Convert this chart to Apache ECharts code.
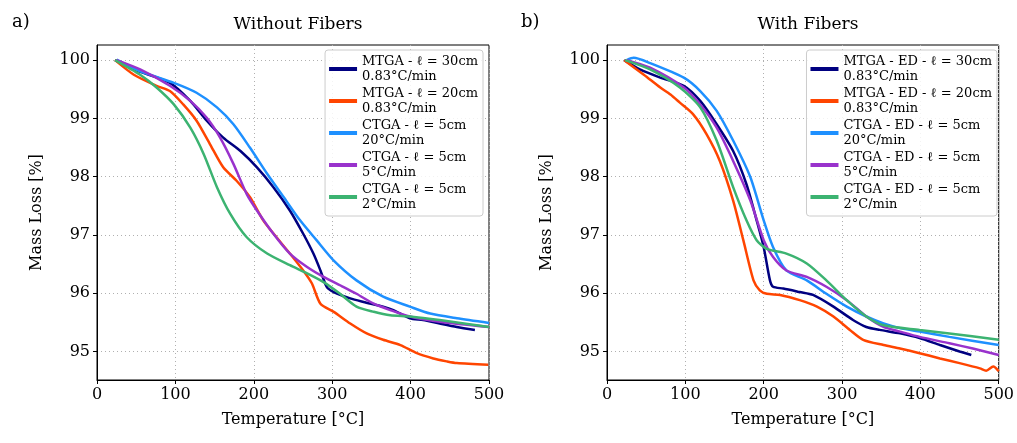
<!DOCTYPE html>
<html>
<head>
<meta charset="utf-8">
<script src="https://cdn.jsdelivr.net/npm/echarts@6/dist/echarts.min.js"></script>
<style>
  html, body { margin: 0; padding: 0; background: #fff; }
  #main { width: 1017px; height: 443px; }
</style>
</head>
<body>
<div id="main"></div>
<script>
// temperature [°C] / mass [%] pairs
// a) Without Fibers
var mtga30A = [[23,100],[47,99.84],[93,99.61],[119,99.30],[140,98.96],[161,98.67],[183,98.44],[204,98.16],[225,97.82],[246,97.42],[263,97.02],[276,96.68],[285,96.39],[293,96.11],[302,96.02],[323,95.91],[340,95.85],[365,95.77],[378,95.71],[399,95.57],[416,95.54],[437,95.48],[459,95.42],[482,95.37]];
var mtga20A = [[23,100],[47,99.75],[76,99.56],[93,99.47],[110,99.24],[127,98.96],[144,98.56],[161,98.16],[178,97.93],[195,97.65],[212,97.25],[229,96.96],[246,96.68],[263,96.39],[274,96.17],[285,95.82],[302,95.68],[323,95.48],[344,95.31],[365,95.20],[387,95.11],[408,94.97],[429,94.88],[446,94.83],[459,94.80],[499,94.77]];
var ctga20A = [[25,100.01],[55,99.81],[98,99.61],[127,99.44],[153,99.19],[174,98.90],[195,98.50],[217,98.05],[238,97.65],[259,97.25],[280,96.91],[302,96.56],[331,96.22],[365,95.94],[399,95.77],[425,95.65],[459,95.57],[500,95.49]];
var ctga5A = [[25,100],[55,99.84],[93,99.56],[119,99.30],[140,99.01],[157,98.67],[174,98.22],[191,97.70],[204,97.42],[225,97.02],[246,96.68],[268,96.45],[289,96.28],[314,96.11],[331,95.99],[353,95.82],[374,95.71],[399,95.60],[437,95.51],[500,95.42]];
var ctga2A = [[23,100],[55,99.75],[76,99.53],[98,99.24],[119,98.84],[136,98.39],[153,97.82],[170,97.36],[191,96.96],[217,96.68],[246,96.48],[268,96.34],[289,96.19],[310,95.99],[331,95.77],[353,95.68],[374,95.62],[399,95.60],[437,95.54],[500,95.42]];

// b) With Fibers
var mtga30B = [[22,100],[42,99.84],[68,99.70],[98,99.56],[119,99.30],[140,98.90],[161,98.44],[178,97.87],[191,97.25],[200,96.79],[208,96.22],[212,96.11],[225,96.08],[246,96.02],[263,95.97],[289,95.77],[314,95.54],[331,95.42],[348,95.37],[374,95.31],[399,95.23],[425,95.11],[450,95.00],[465,94.94]];
var mtga20B = [[22,100],[47,99.75],[68,99.53],[81,99.41],[93,99.27],[110,99.07],[127,98.73],[144,98.27],[161,97.59],[174,96.91],[187,96.22],[195,96.05],[204,95.99],[221,95.97],[246,95.88],[268,95.77],[289,95.60],[310,95.37],[327,95.20],[353,95.11],[374,95.05],[399,94.97],[425,94.88],[450,94.80],[476,94.71],[484,94.67],[493,94.74],[500,94.66]];
var ctga20B = [[25,100],[34,100.04],[55,99.95],[98,99.70],[119,99.47],[140,99.13],[161,98.62],[183,97.99],[200,97.25],[212,96.79],[229,96.39],[255,96.22],[280,95.99],[306,95.77],[331,95.60],[353,95.48],[374,95.40],[399,95.34],[437,95.25],[500,95.11]];
var ctga5B = [[25,100],[55,99.87],[98,99.53],[119,99.24],[140,98.84],[161,98.27],[183,97.59],[200,96.91],[212,96.62],[229,96.39],[255,96.28],[280,96.11],[306,95.88],[331,95.60],[353,95.42],[374,95.34],[399,95.25],[437,95.14],[467,95.05],[500,94.94]];
var ctga2B = [[23,100],[55,99.84],[93,99.53],[119,99.19],[140,98.62],[161,97.82],[178,97.25],[191,96.91],[204,96.76],[229,96.68],[255,96.51],[280,96.22],[306,95.88],[331,95.60],[353,95.45],[399,95.37],[437,95.31],[500,95.20]];

var namesA = ['MTGA - ℓ = 30cm\n0.83°C/min', 'MTGA - ℓ = 20cm\n0.83°C/min', 'CTGA - ℓ = 5cm\n20°C/min', 'CTGA - ℓ = 5cm\n5°C/min', 'CTGA - ℓ = 5cm\n2°C/min'];
var namesB = ['MTGA - ED - ℓ = 30cm\n0.83°C/min', 'MTGA - ED - ℓ = 20cm\n0.83°C/min', 'CTGA - ED - ℓ = 5cm\n20°C/min', 'CTGA - ED - ℓ = 5cm\n5°C/min', 'CTGA - ED - ℓ = 5cm\n2°C/min'];
var xTicks = [0, 100, 200, 300, 400, 500];
var yTicks = [95, 96, 97, 98, 99, 100];
var colors = ['#000080', '#FF4500', '#1E90FF', '#9932CC', '#3CB371'];

var font = "'DejaVu Serif', 'Liberation Serif', serif";
var chart = echarts.init(document.getElementById('main'));

function xAxis(idx) {
    return {
        type: 'value', gridIndex: idx, min: 0, max: 500, interval: 100,
        name: 'Temperature [°C]', nameLocation: 'middle', nameGap: 32,
        nameTextStyle: { color: '#000', fontFamily: font, fontSize: 16 },
        axisLine: { show: true, lineStyle: { color: '#000', width: 1 } },
        axisTick: { show: true, inside: false, length: 4, lineStyle: { color: '#000' } },
        axisLabel: { color: '#000', fontFamily: font, fontSize: 16, margin: 7 },
        splitLine: { show: true, lineStyle: { color: '#b0b0b0', type: [1, 3], width: 1 } }
    };
}
function yAxis(idx) {
    return {
        type: 'value', gridIndex: idx, min: 94.51, max: 100.26,
        name: 'Mass Loss [%]', nameLocation: 'middle', nameGap: 52,
        nameTextStyle: { color: '#000', fontFamily: font, fontSize: 16 },
        axisLine: { show: true, lineStyle: { color: '#000', width: 1 } },
        axisTick: { show: true, inside: false, length: 4, customValues: yTicks, lineStyle: { color: '#000' } },
        axisLabel: { color: '#000', fontFamily: font, fontSize: 16, margin: 7, customValues: yTicks },
        splitLine: { show: true, lineStyle: { color: '#b0b0b0', type: [1, 3], width: 1 } }
    };
}
function legend(right, names) {
    return {
        data: names, orient: 'vertical', right: right, top: 50,
        icon: 'rect', itemWidth: 28, itemHeight: 4, itemGap: 2,
        backgroundColor: 'rgba(255,255,255,0.85)', borderColor: '#cccccc', borderWidth: 1, borderRadius: 3,
        padding: [4, 5, 4, 4],
        textStyle: { color: '#000', fontFamily: font, fontSize: 13, lineHeight: 15 }
    };
}
function line(name, data, color, idx) {
    return {
        name: name, type: 'line', data: data, xAxisIndex: idx, yAxisIndex: idx,
        showSymbol: false, smooth: 0.25, lineStyle: { color: color, width: 2.5 }, itemStyle: { color: color }
    };
}

var seriesA = [mtga30A, mtga20A, ctga20A, ctga5A, ctga2A];
var seriesB = [mtga30B, mtga20B, ctga20B, ctga5B, ctga2B];
var series = [];
seriesA.forEach(function (d, i) { series.push(line(namesA[i], d, colors[i], 0)); });
seriesB.forEach(function (d, i) { series.push(line(namesB[i], d, colors[i], 1)); });

chart.setOption({
    animation: false,
    color: colors,
    title: [
        { text: 'Without Fibers', left: 293, top: 11, textAlign: 'center', textStyle: { fontFamily: font, fontWeight: 'normal', fontSize: 17, color: '#000' } },
        { text: 'With Fibers', left: 803, top: 11, textAlign: 'center', textStyle: { fontFamily: font, fontWeight: 'normal', fontSize: 17, color: '#000' } },
        { text: 'a)', left: 7, top: 8, textStyle: { fontFamily: font, fontWeight: 'normal', fontSize: 18, color: '#000' } },
        { text: 'b)', left: 516, top: 8, textStyle: { fontFamily: font, fontWeight: 'normal', fontSize: 18, color: '#000' } }
    ],
    legend: [legend(534, namesA), legend(20, namesB)],
    grid: [
        { left: 97, right: 528, top: 45, bottom: 63, show: true, borderColor: '#000', borderWidth: 1, backgroundColor: 'transparent' },
        { left: 607, right: 18, top: 45, bottom: 63, show: true, borderColor: '#000', borderWidth: 1, backgroundColor: 'transparent' }
    ],
    xAxis: [xAxis(0), xAxis(1)],
    yAxis: [yAxis(0), yAxis(1)],
    series: series
});
</script>
</body>
</html>
